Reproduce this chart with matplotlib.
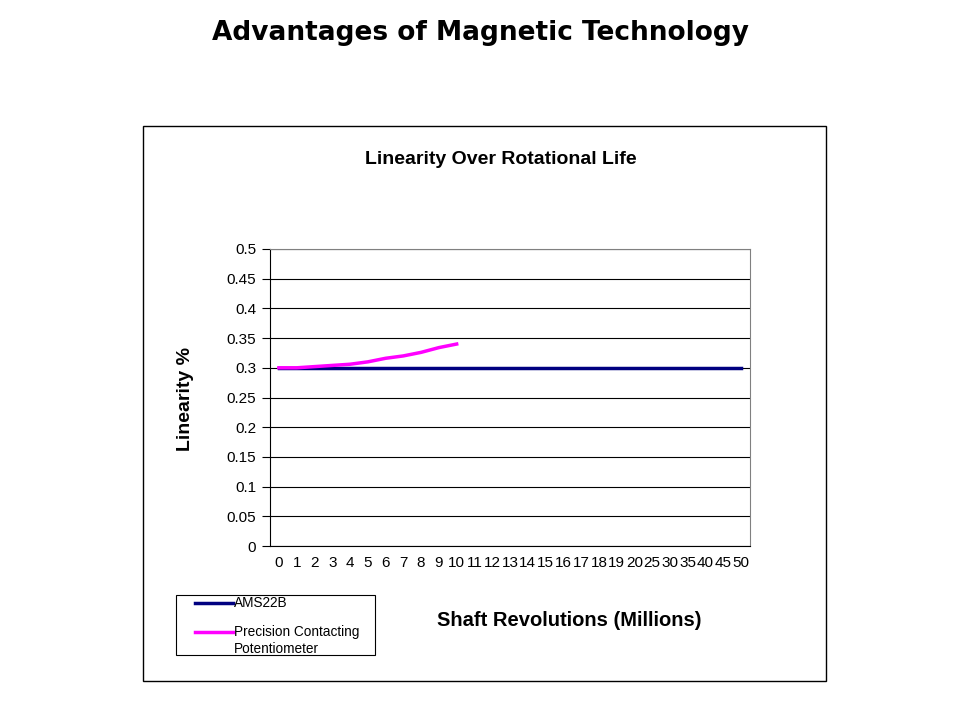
import matplotlib
matplotlib.use("Agg")
import matplotlib.pyplot as plt
from matplotlib.patches import Rectangle
from matplotlib.lines import Line2D

# revolution categories (millions)
categories = ['0', '1', '2', '3', '4', '5', '6', '7', '8', '9', '10', '11', '12', '13',
              '14', '15', '16', '17', '18', '19', '20', '25', '30', '35', '40', '45', '50']
ams22b = [0.30] * 27
precision_pot = [0.300, 0.300, 0.302, 0.304, 0.306, 0.310, 0.316, 0.320, 0.326, 0.334, 0.340]
y_ticks = [0, 0.05, 0.1, 0.15, 0.2, 0.25, 0.3, 0.35, 0.4, 0.45, 0.5]
y_labels = ['0', '0.05', '0.1', '0.15', '0.2', '0.25', '0.3', '0.35', '0.4', '0.45', '0.5']
series_names = ['AMS22B', 'Precision Contacting\nPotentiometer']
series_colors = ['#000080', '#FF00FF']

plt.rcParams['font.family'] = ['Liberation Sans', 'DejaVu Sans']

fig = plt.figure(figsize=(9.6, 7.2), dpi=100)
fig.patch.set_facecolor('white')

# slide title
fig.text(0.5, 1 - 33 / 720, 'Advantages of Magnetic Technology', ha='center', va='center',
         fontsize=19, fontweight='bold', family='DejaVu Sans')

# outer chart frame
fig.patches.append(Rectangle((143 / 960, 1 - 681 / 720), (826 - 143) / 960, (681 - 126) / 720,
                             transform=fig.transFigure, fill=False, edgecolor='black', linewidth=1))

ax = fig.add_axes([270 / 960, 1 - 546 / 720, 480 / 960, 297 / 720])
x = list(range(len(categories)))
ax.plot(x, ams22b, color=series_colors[0], linewidth=2.5, zorder=3)
ax.plot(x[:len(precision_pot)], precision_pot, color=series_colors[1], linewidth=2.5, zorder=4)

ax.set_xlim(-0.5, len(categories) - 0.5)
ax.set_ylim(0, 0.5)
ax.set_yticks(y_ticks)
ax.set_yticklabels(y_labels, fontsize=11)
ax.set_xticks(x)
ax.set_xticklabels(categories, fontsize=11)
ax.tick_params(axis='x', length=0, pad=7)
ax.tick_params(axis='y', length=6, direction='out', pad=4)
ax.yaxis.grid(True, color='black', linewidth=0.8)
ax.set_axisbelow(True)
for s in ['top', 'right']:
    ax.spines[s].set_color('#808080')
ax.spines['left'].set_color('black')
ax.spines['bottom'].set_color('black')

fig.text(501 / 960, 1 - 159 / 720, 'Linearity Over Rotational Life', ha='center', va='center',
         fontsize=14, fontweight='bold')
fig.text(186 / 960, 1 - 399 / 720, 'Linearity %', ha='center', va='center', rotation=90,
         fontsize=14, fontweight='bold')
fig.text(569 / 960, 1 - 620 / 720, 'Shaft Revolutions (Millions)', ha='center', va='center',
         fontsize=14.5, fontweight='bold')

# legend box, drawn like the spreadsheet legend
fig.patches.append(Rectangle((176 / 960, 1 - 655 / 720), (375 - 176) / 960, (655 - 595) / 720,
                             transform=fig.transFigure, fill=False, edgecolor='black', linewidth=0.8))
for name, color, ypix in zip(series_names, series_colors, [603, 632]):
    fig.lines.append(Line2D([195 / 960, 233 / 960], [1 - ypix / 720] * 2, transform=fig.transFigure,
                            color=color, linewidth=2.5))
    fig.text(234 / 960, 1 - (ypix - 7) / 720, name, ha='left', va='top', fontsize=9.8,
             linespacing=1.25)

fig.savefig('out.png', dpi=100, facecolor='white')
